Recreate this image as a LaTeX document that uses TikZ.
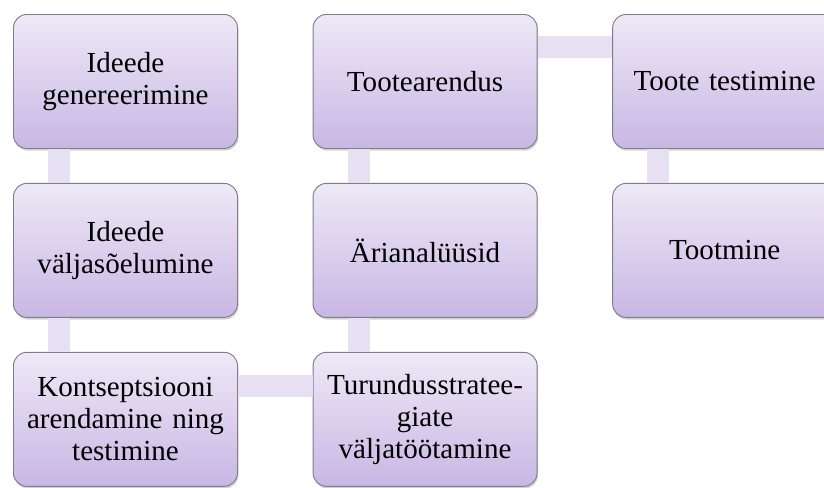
\documentclass[tikz,border=0pt]{standalone}
\usepackage{fontspec}
\setmainfont{Liberation Serif}
\usetikzlibrary{positioning,shadows}

\definecolor{boxtop}{RGB}{238,233,247}
\definecolor{boxbot}{RGB}{200,183,228}
\definecolor{boxline}{RGB}{128,124,140}
\definecolor{linkfill}{RGB}{231,224,243}

\begin{document}
\begin{tikzpicture}[
    step box/.style={rectangle, draw=boxline, line width=0.7pt, top color=boxtop, bottom color=boxbot,
        rounded corners=10pt, text width=154pt, inner sep=7pt, align=center, minimum height=100.5pt,
        font=\fontsize{21.8}{24}\selectfont,
        drop shadow={opacity=0.35, shadow xshift=0.8pt, shadow yshift=-1.6pt}},
    link/.style={draw=linkfill, line width=16.5pt, line cap=butt}
]

\useasboundingbox (0,0) rectangle (618pt,-365.25pt);

% first column
\node[step box, anchor=north west] (gen) at (9.75pt,-10.5pt) {Ideede\\genereerimine};
\node[step box, below=25.5pt of gen] (sel) {Ideede\\väljasõelumine};
\node[step box, below=25.5pt of sel] (kontsept) {Kontseptsiooni\\arendamine ning\\testimine};

% second column
\node[step box, right=56pt of kontsept] (turundus) {Turundusstratee-\\giate\\väljatöötamine};
\node[step box, above=25.5pt of turundus] (analyys) {Ärianalüüsid};
\node[step box, above=25.5pt of analyys] (arendus) {Tootearendus};

% third column
\node[step box, right=56pt of arendus] (testimine) {Toote testimine};
\node[step box, below=25.5pt of testimine] (tootmine) {Tootmine};

% connecting bands
\draw[link] ([xshift=34.5pt]gen.south west) -- ([xshift=34.5pt]sel.north west);
\draw[link] ([xshift=34.5pt]sel.south west) -- ([xshift=34.5pt]kontsept.north west);
\draw[link] ([yshift=-25.5pt]kontsept.north east) -- ([yshift=-25.5pt]turundus.north west);
\draw[link] ([xshift=34.5pt]turundus.north west) -- ([xshift=34.5pt]analyys.south west);
\draw[link] ([xshift=34.5pt]analyys.north west) -- ([xshift=34.5pt]arendus.south west);
\draw[link] ([yshift=-25pt]arendus.north east) -- ([yshift=-25pt]testimine.north west);
\draw[link] ([xshift=34.5pt]testimine.south west) -- ([xshift=34.5pt]tootmine.north west);

\end{tikzpicture}
\end{document}
